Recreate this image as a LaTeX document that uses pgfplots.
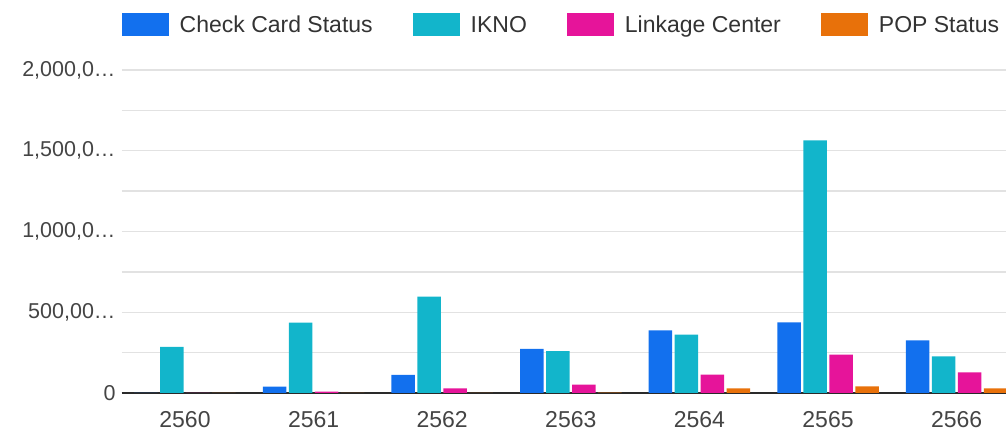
\documentclass[border=0pt]{standalone}
\usepackage{pgfplots}
\pgfplotsset{compat=1.18}
\usepackage{fontspec}
\setmainfont{Liberation Sans}
\definecolor{ccs}{HTML}{1270EE}
\definecolor{ikno}{HTML}{12B5CB}
\definecolor{link}{HTML}{E6149A}
\definecolor{pop}{HTML}{E8710A}
\definecolor{tickgray}{HTML}{444444}
\definecolor{legtext}{HTML}{333333}
\definecolor{gridgray}{HTML}{E2E2E2}
\definecolor{basegray}{HTML}{2A2A2A}
\begin{document}
\begin{tikzpicture}
\useasboundingbox (0pt,0pt) rectangle (1006pt,431pt);
\begin{axis}[
  at={(121.7pt,38pt)}, anchor=south west,
  scale only axis,
  width=884.3pt, height=323pt,
  xmin=-0.492, xmax=6.384,
  ymin=0, ymax=2000000,
  axis x line*=bottom, axis y line*=left,
  y axis line style={draw=none},
  x axis line style={draw=basegray, line width=2pt},
  major tick length=0pt,
  xtick={0,1,2,3,4,5,6},
  xticklabels={2560,2561,2562,2563,2564,2565,2566},
  ytick={0,250000,500000,750000,1000000,1250000,1500000,1750000,2000000},
  yticklabels={0,{},{500,00…},{},{1,000,0…},{},{1,500,0…},{},{2,000,0…}},
  scaled y ticks=false,
  ymajorgrids,
  grid style={draw=gridgray, line width=1.3pt},
  xticklabel style={font=\fontsize{23}{27}\selectfont, text=tickgray, inner sep=0pt, anchor=north, yshift=-18.5pt},
  yticklabel style={font=\fontsize{21.5}{26}\selectfont, text=tickgray, inner sep=0pt, anchor=east, xshift=-6pt},
  ybar, bar width=0.1827,
  legend columns=-1,
  legend image code/.code={\fill[#1] (0pt,-11.5pt) rectangle (47pt,11.5pt);},
  legend style={draw=none, fill=none, inner sep=0pt, outer sep=0pt,
    at={(axis description cs:0,1)}, anchor=west, yshift=45pt,
    font=\fontsize{23}{27}\selectfont, text=legtext,
    nodes={inner sep=0pt},
    /tikz/every odd column/.append style={column sep=11pt},
    /tikz/every even column/.append style={column sep=40pt}},
]
\addplot[fill=ccs, draw=none, bar shift=-0.3033] coordinates {(0,0) (1,39000) (2,112000) (3,273000) (4,388000) (5,438000) (6,326000)};
\addplot[fill=ikno, draw=none, bar shift=-0.1011] coordinates {(0,285000) (1,436000) (2,597000) (3,260000) (4,362000) (5,1565000) (6,227000)};
\addplot[fill=link, draw=none, bar shift=0.1011] coordinates {(0,0) (1,8000) (2,29000) (3,52000) (4,114000) (5,238000) (6,128000)};
\addplot[fill=pop, draw=none, bar shift=0.3033] coordinates {(0,0) (1,0) (2,0) (3,2000) (4,29000) (5,41000) (6,29000)};
\legend{Check Card Status, IKNO, Linkage Center, POP Status}
\end{axis}
\end{tikzpicture}
\end{document}
